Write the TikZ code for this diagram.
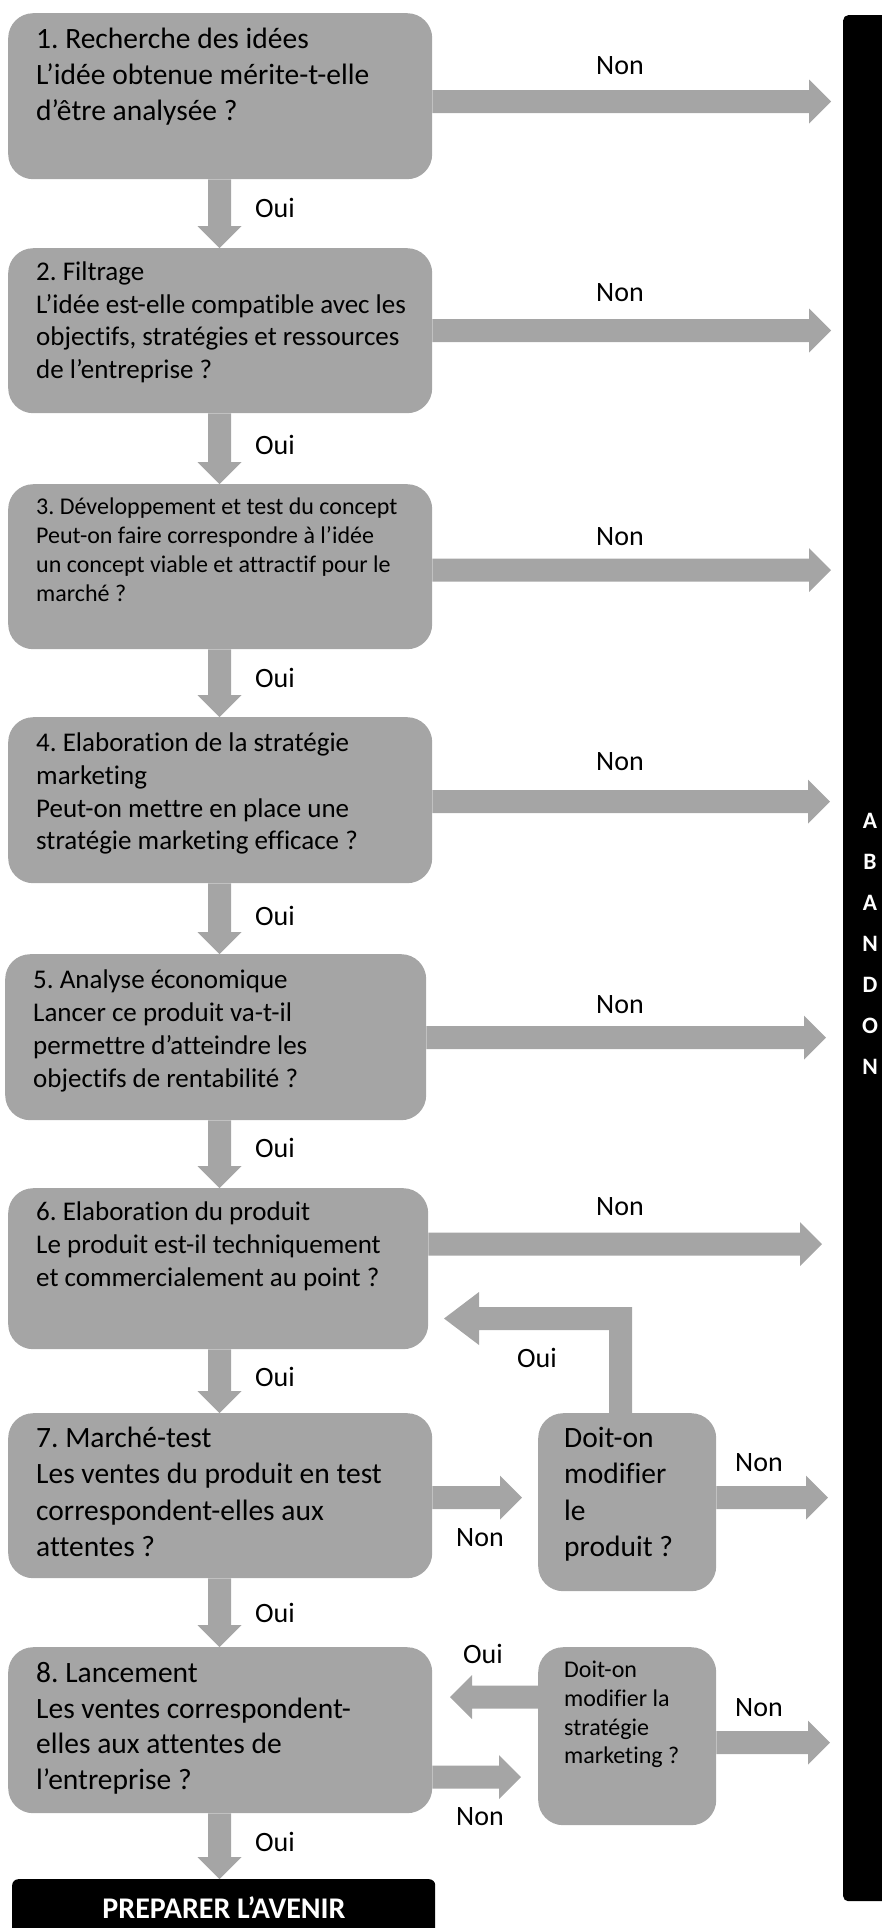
\documentclass[tikz,border=0pt]{standalone}
\usepackage{fontspec}
\setmainfont{Carlito}[Ligatures=NoCommon]
\usetikzlibrary{calc}
\definecolor{agray}{RGB}{165,165,165}
\frenchspacing
\newcommand\ml[1]{\begin{tabular}[t]{@{}l@{}}#1\end{tabular}}
\newcommand\mc[1]{\begin{tabular}[t]{@{}c@{}}#1\end{tabular}}
\newcommand\arrR[2]{\fill[agray] let \p1=(#1), \p2=(#2) in (\x1,\y1+11.5pt) -- (\x2-22pt,\y1+11.5pt) -- (\x2-22pt,\y1+22pt) -- (\x2,\y1) -- (\x2-22pt,\y1-22pt) -- (\x2-22pt,\y1-11.5pt) -- (\x1,\y1-11.5pt) -- cycle;}
\newcommand\arrL[2]{\fill[agray] let \p1=(#1), \p2=(#2) in (\x1,\y1+11.5pt) -- (\x2+22pt,\y1+11.5pt) -- (\x2+22pt,\y1+22pt) -- (\x2,\y1) -- (\x2+22pt,\y1-22pt) -- (\x2+22pt,\y1-11.5pt) -- (\x1,\y1-11.5pt) -- cycle;}
\newcommand\arrD[2]{\fill[agray] let \p1=(#1), \p2=(#2) in (\x1-11.5pt,\y1) -- (\x1-11.5pt,\y2+22pt) -- (\x1-22pt,\y2+22pt) -- (\x1,\y2) -- (\x1+22pt,\y2+22pt) -- (\x1+11.5pt,\y2+22pt) -- (\x1+11.5pt,\y1) -- cycle;}
\tikzset{
  box/.style={fill=agray, rounded corners=25pt, anchor=north west, inner sep=0pt},
  txt/.style args={#1/#2}{anchor=base west, inner sep=0pt, font=\fontsize{#1}{#2}\selectfont},
  lab/.style={inner sep=0pt, font=\fontsize{28}{33}\selectfont},
}
\begin{document}
\begin{tikzpicture}[x=1pt,y=-1pt]
\useasboundingbox (0,0) rectangle (882,1928);
% black bar
\node[fill=black, rounded corners=5pt, anchor=north west, inner sep=0pt, minimum width=60pt, minimum height=1886pt] (bar) at (843,15) {};
\node[anchor=base, inner sep=0pt, text=white, font=\fontsize{23.5}{41}\selectfont\bfseries] (ab) at (870,828.5) {\mc{A\\B\\A\\N\\D\\O\\N}};
% boxes
\node[box, minimum width=424pt, minimum height=166pt] (b1) at (8,13) {};
\node[box, minimum width=424pt, minimum height=165pt] (b2) at (8,248) {};
\node[box, minimum width=424pt, minimum height=165pt] (b3) at (8,484) {};
\node[box, minimum width=424pt, minimum height=166pt] (b4) at (8,717) {};
\node[box, minimum width=421pt, minimum height=166pt] (b5) at (5,954) {};
\node[box, minimum width=420pt, minimum height=161pt] (b6) at (8,1188) {};
\node[box, minimum width=424pt, minimum height=165pt] (b7) at (8,1413) {};
\node[box, minimum width=424pt, minimum height=166pt] (b8) at (8,1647) {};
\node[box, minimum width=178pt, minimum height=178pt] (b7b) at (538,1413) {};
\node[box, minimum width=178pt, minimum height=178pt] (b8b) at (538,1647) {};
\node[fill=black, rounded corners=6pt, anchor=north west, inner sep=0pt, minimum width=423pt, minimum height=70pt] (P) at (12,1879) {};
\node[anchor=base, inner sep=0pt, text=white, font=\fontsize{30}{33}\selectfont\bfseries] (Pt) at (224,1918) {PREPARER L’AVENIR};
% texts
\node[txt=29.5/36] (t1) at (36,48.5) {\ml{1. Recherche des idées\\L’idée obtenue mérite-t-elle\\d’être analysée ?}};
\node[txt=27/32.5] (t2) at (36,280.7) {\ml{2. Filtrage\\L’idée est-elle compatible avec les\\objectifs, stratégies et ressources\\de l’entreprise ?}};
\node[txt=24/29] (t3) at (36,514.7) {\ml{3. Développement et test du concept\\Peut-on faire correspondre à l’idée\\un concept viable et attractif pour le\\marché ?}};
\node[txt=27/32.7] (t4) at (36,751.7) {\ml{4. Elaboration de la stratégie\\marketing\\Peut-on mettre en place une\\stratégie marketing efficace ?}};
\node[txt=27/33] (t5) at (33,988.7) {\ml{5. Analyse économique\\Lancer ce produit va-t-il\\permettre d’atteindre les\\objectifs de rentabilité ?}};
\node[txt=27/33] (t6) at (36,1220.7) {\ml{6. Elaboration du produit\\Le produit est-il techniquement\\et commercialement au point ?}};
\node[txt=29.5/36.3] (t7) at (36,1447.5) {\ml{7. Marché-test\\Les ventes du produit en test\\correspondent-elles aux\\attentes ?}};
\node[txt=29.5/35.7] (t8) at (36,1682.5) {\ml{8. Lancement\\Les ventes correspondent-\\elles aux attentes de\\l’entreprise ?}};
\node[txt=29.5/36.3] (t7b) at (564,1447.5) {\ml{Doit-on\\modifier\\le\\produit ?}};
\node[txt=24/28.7] (t8b) at (564,1677.7) {\ml{Doit-on\\modifier la\\stratégie\\marketing ?}};
% down arrows
\coordinate (sp) at (219.5,0);
\arrD{b1.south -| sp}{b2.north -| sp}
\arrD{b2.south -| sp}{b3.north -| sp}
\arrD{b3.south -| sp}{b4.north -| sp}
\arrD{b4.south -| sp}{b5.north -| sp}
\arrD{b5.south -| sp}{b6.north -| sp}
\arrD{b6.south -| sp}{b7.north -| sp}
\arrD{b7.south -| sp}{b8.north -| sp}
\arrD{b8.south -| sp}{P.north -| sp}
% right arrows to ABANDON
\coordinate (n1) at (831,101.5);
\coordinate (n2) at (831,330.5);
\coordinate (n3) at (831,570);
\coordinate (n4) at (830,801.5);
\coordinate (n5) at (826,1037.5);
\coordinate (n6) at (822,1244);
\coordinate (n7) at (828,1497.5);
\coordinate (n8) at (830,1742.5);
\arrR{b1.east |- n1}{n1}
\arrR{b2.east |- n2}{n2}
\arrR{b3.east |- n3}{n3}
\arrR{b4.east |- n4}{n4}
\arrR{b5.east |- n5}{n5}
\arrR{b6.east |- n6}{n6}
\arrR{b7b.east |- n7}{n7}
\arrR{b8b.east |- n8}{n8}
% side arrows
\coordinate (m7) at (522,1497.5);
\coordinate (m8) at (521,1777);
\coordinate (o8) at (450,1697);
\arrR{b7.east |- m7}{m7}
\arrR{b8.east |- m8}{m8}
\arrL{b8b.west |- o8}{o8}
% loop arrow back to step 6
\coordinate (lo) at (444,1318.5);
\fill[agray] let \p1=([xshift=-6.5pt]b7b.north), \p2=(lo) in (\x1-11.5pt,\y1) -- (\x1-11.5pt,\y2-11.5pt) -- (\x2+35pt,\y2-11.5pt) -- (\x2+35pt,\y2-26.5pt) -- (\x2,\y2) -- (\x2+35pt,\y2+26.5pt) -- (\x2+35pt,\y2+11.5pt) -- (\x1+11.5pt,\y2+11.5pt) -- (\x1+11.5pt,\y1) -- cycle;
% labels
\node[lab, anchor=west] (o1) at (255,208) {Oui};
\node[lab, anchor=west] (o2) at (255,445) {Oui};
\node[lab, anchor=west] (o3) at (255,678) {Oui};
\node[lab, anchor=west] (o4) at (255,916) {Oui};
\node[lab, anchor=west] (o5) at (255,1148) {Oui};
\node[lab, anchor=west] (o6) at (255,1377) {Oui};
\node[lab, anchor=west] (o7) at (255,1613) {Oui};
\node[lab, anchor=west] (o8l) at (255,1842) {Oui};
\node[lab] (ol) at (537,1358) {Oui};
\node[lab] (om) at (483,1654) {Oui};
\node[lab] (x1) at (620,66) {Non};
\node[lab] (x2) at (620,293) {Non};
\node[lab] (x3) at (620,537) {Non};
\node[lab] (x4) at (620,762) {Non};
\node[lab] (x5) at (620,1005) {Non};
\node[lab] (x6) at (620,1207) {Non};
\node[lab] (x7) at (759,1463) {Non};
\node[lab] (x8) at (759,1708) {Non};
\node[lab] (y7) at (480,1538) {Non};
\node[lab] (y8) at (480,1817) {Non};
\end{tikzpicture}
\end{document}
